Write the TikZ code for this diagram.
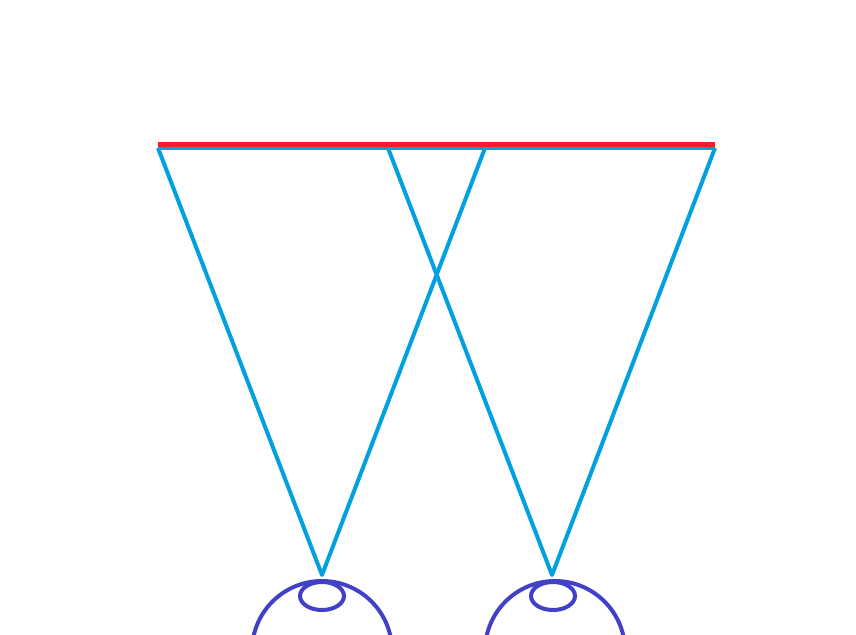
\documentclass[tikz,border=0pt]{standalone}
\definecolor{rayblue}{RGB}{0,160,225}
\definecolor{eyeblue}{RGB}{65,65,200}
\definecolor{screenred}{RGB}{240,30,40}
\begin{document}
\begin{tikzpicture}[x=1pt,y=-1pt]
  \tikzstyle{ray} = [rayblue, line width=4pt, line join=round]
  \tikzstyle{eye} = [eyeblue, line width=4pt]
  \useasboundingbox (0,0) rectangle (856,634);
  \clip (0,0) rectangle (856,634);

  \coordinate (screen-left) at (158,148);
  \coordinate (screen-right) at (715,148);
  \coordinate (red-left) at (158,144.5);
  \coordinate (red-right) at (715,144.5);
  \coordinate (left-far) at (485,148);
  \coordinate (right-far) at (388,148);
  \coordinate (left-eye) at (322,575);
  \coordinate (right-eye) at (552,575);

  \draw [ray] (screen-left) -- (screen-right);
  \draw [ray] (screen-left) -- (left-eye) -- (left-far);
  \draw [ray] (right-far) -- (right-eye) -- (screen-right);
  \draw [screenred, line width=4.5pt] (red-left) -- (red-right);

  \draw [eye] (322,651) circle (70);
  \draw [eye] (322,596) ellipse (22 and 14);
  \draw [eye] (555,651) circle (70);
  \draw [eye] (553,596) ellipse (22 and 14);
\end{tikzpicture}
\end{document}
